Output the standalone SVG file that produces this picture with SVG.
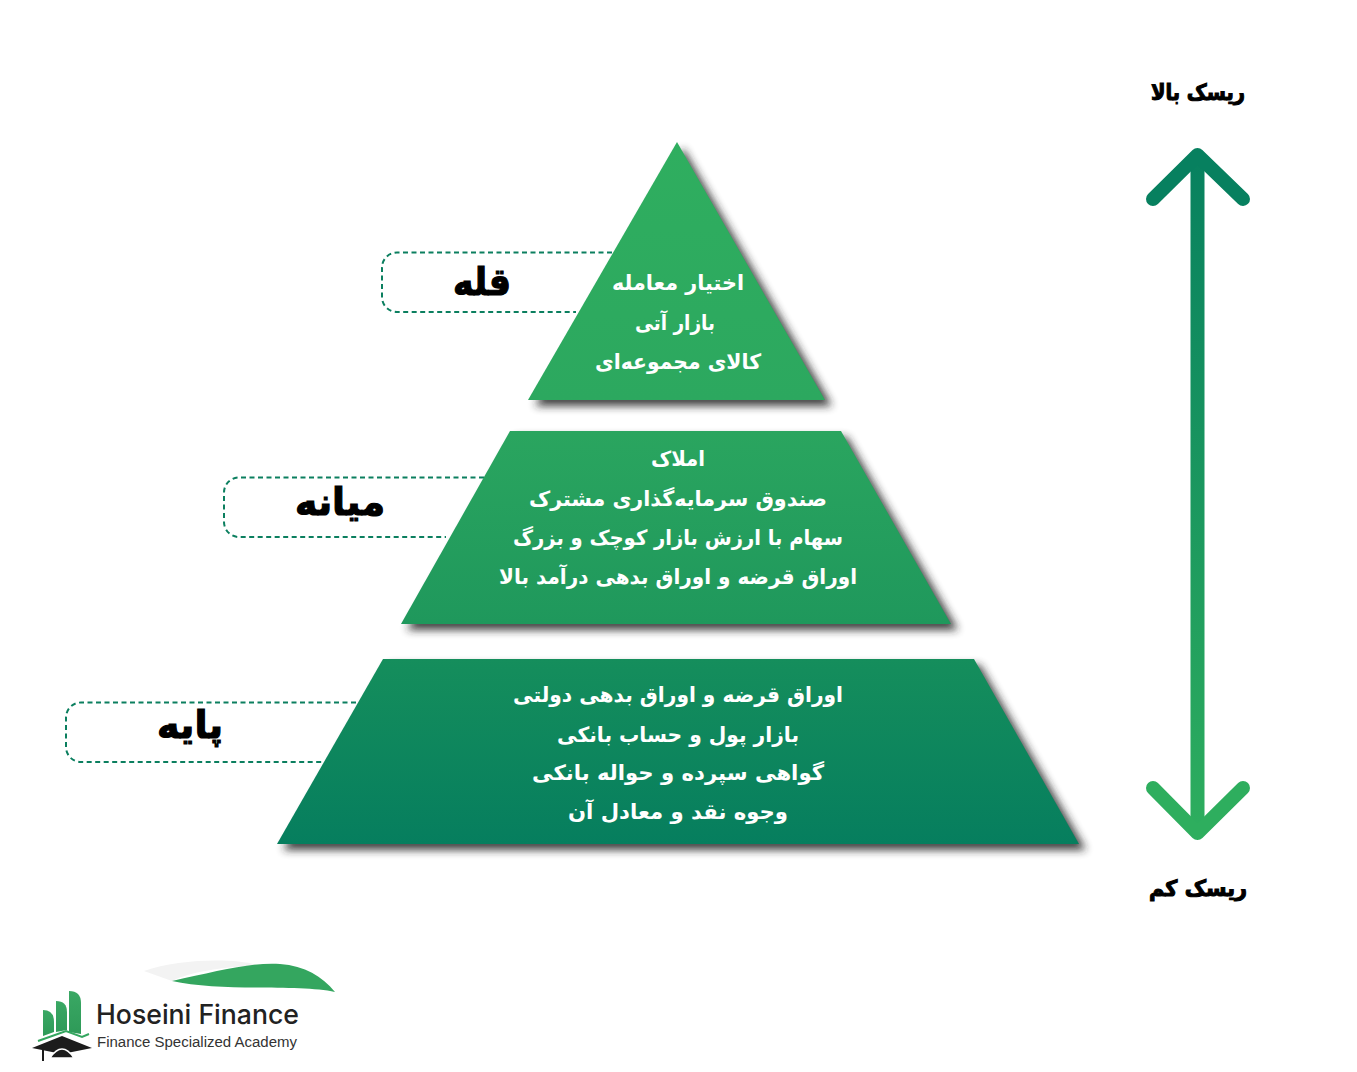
<svg xmlns="http://www.w3.org/2000/svg" width="1357" height="1072" viewBox="0 0 1357 1072">
<style>
.tier{font-family:"DejaVu Sans",sans-serif;font-weight:700;font-size:21px;fill:#fff;text-anchor:middle}
.lab{font-family:"DejaVu Sans",sans-serif;font-weight:700;font-size:38px;fill:#000;stroke:#000;stroke-width:1.200;text-anchor:middle}
.risk{font-family:"DejaVu Sans",sans-serif;font-weight:700;font-size:22px;fill:#000;stroke:#000;stroke-width:1.100;text-anchor:middle}
.dash{fill:none;stroke:#0b7f5f;stroke-width:2;stroke-dasharray:5 3.500}
</style>
<defs>
<linearGradient id="g1" x1="0" y1="0" x2="0" y2="1"><stop offset="0" stop-color="#2fae5f"/><stop offset="1" stop-color="#2ca85f"/></linearGradient>
<linearGradient id="g2" x1="0" y1="0" x2="0" y2="1"><stop offset="0" stop-color="#2aa55f"/><stop offset="1" stop-color="#1f985c"/></linearGradient>
<linearGradient id="g3" x1="0" y1="0" x2="0" y2="1"><stop offset="0" stop-color="#158e5c"/><stop offset="1" stop-color="#067e5e"/></linearGradient>
<linearGradient id="ga" gradientUnits="userSpaceOnUse" x1="0" y1="150" x2="0" y2="838"><stop offset="0" stop-color="#07805f"/><stop offset="1" stop-color="#2eae5e"/></linearGradient>
<linearGradient id="bar" x1="0" y1="0" x2="0" y2="1"><stop offset="0" stop-color="#3aa864"/><stop offset="1" stop-color="#2e9a58"/></linearGradient>
<filter id="sh" x="-10%" y="-10%" width="125%" height="125%"><feGaussianBlur stdDeviation="4.500"/></filter>
</defs>
<rect width="1357" height="1072" fill="#fff"/>
<g id="connectors">
<path class="dash" d="M612 252.500H397a15 15 0 0 0-15 15V297a15 15 0 0 0 15 15H576"/>
<path class="dash" d="M484 477.500H239a15 15 0 0 0-15 15V522a15 15 0 0 0 15 15H446"/>
<path class="dash" d="M356 702.500H81a15 15 0 0 0-15 15V747a15 15 0 0 0 15 15H324"/>
</g>
<g id="tier-top">
<path d="M683 148 832 406H535Z" fill="#222" opacity=".85" filter="url(#sh)"/>
<path d="M677 142 825 400H528Z" fill="url(#g1)"/>
<text class="tier" direction="rtl" x="678" y="290" textLength="132" lengthAdjust="spacingAndGlyphs">اختیار معامله</text>
<text class="tier" direction="rtl" x="675" y="330" textLength="80" lengthAdjust="spacingAndGlyphs">بازار آتی</text>
<text class="tier" direction="rtl" x="678" y="369" textLength="166" lengthAdjust="spacingAndGlyphs">کالای مجموعه‌ای</text>
</g>
<g id="tier-middle">
<path d="M516 437H847L958 630H407Z" fill="#222" opacity=".85" filter="url(#sh)"/>
<path d="M510 431H841L951 624H401Z" fill="url(#g2)"/>
<text class="tier" direction="rtl" x="678" y="466" textLength="54" lengthAdjust="spacingAndGlyphs">املاک</text>
<text class="tier" direction="rtl" x="678" y="506" textLength="298" lengthAdjust="spacingAndGlyphs">صندوق سرمایه‌گذاری مشترک</text>
<text class="tier" direction="rtl" x="678" y="545" textLength="330" lengthAdjust="spacingAndGlyphs">سهام با ارزش بازار کوچک و بزرگ</text>
<text class="tier" direction="rtl" x="678" y="584" textLength="358" lengthAdjust="spacingAndGlyphs">اوراق قرضه و اوراق بدهی درآمد بالا</text>
</g>
<g id="tier-base">
<path d="M389 665H980L1086 850H283Z" fill="#222" opacity=".85" filter="url(#sh)"/>
<path d="M383 659H974L1079 844H277Z" fill="url(#g3)"/>
<text class="tier" direction="rtl" x="678" y="702" textLength="330" lengthAdjust="spacingAndGlyphs">اوراق قرضه و اوراق بدهی دولتی</text>
<text class="tier" direction="rtl" x="678" y="742" textLength="242" lengthAdjust="spacingAndGlyphs">بازار پول و حساب بانکی</text>
<text class="tier" direction="rtl" x="678" y="780" textLength="292" lengthAdjust="spacingAndGlyphs">گواهی سپرده و حواله بانکی</text>
<text class="tier" direction="rtl" x="678" y="819" textLength="220" lengthAdjust="spacingAndGlyphs">وجوه نقد و معادل آن</text>
</g>
<g id="label-peak"><text class="lab" direction="rtl" x="482" y="295" textLength="58" lengthAdjust="spacingAndGlyphs">قله</text></g>
<g id="label-mid"><text class="lab" direction="rtl" x="340" y="515" textLength="90" lengthAdjust="spacingAndGlyphs">میانه</text></g>
<g id="label-base"><text class="lab" direction="rtl" x="190" y="738" textLength="66" lengthAdjust="spacingAndGlyphs">پایه</text></g>
<g id="risk-axis" fill="none" stroke="url(#ga)" stroke-width="14">
<path d="M1197.500 158V830"/>
</g>
<g id="risk-heads" fill="none" stroke-width="14" stroke-linecap="round" stroke-linejoin="round">
<path d="M1153 199 1197.500 155 1243 199" stroke="#07805f"/>
<path d="M1153 788 1197.500 833 1243 788" stroke="#2eae5e"/>
</g>
<g id="risk-high"><text class="risk" direction="rtl" x="1198" y="100" textLength="94" lengthAdjust="spacingAndGlyphs">ریسک بالا</text></g>
<g id="risk-low"><text class="risk" direction="rtl" x="1198" y="896" textLength="98" lengthAdjust="spacingAndGlyphs">ریسک کم</text></g>
<g id="logo">
<path d="M144 971C180 958 240 958 260 966C225 966 190 972 172 981Z" fill="#f3f3f3"/>
<path d="M172 981C215 972 250 962 280 964C305 966 322 976 335 992C300 984 220 992 172 981Z" fill="#34a65f"/>
<path d="M43 1036V1010Q54 1010 54 1022V1032Z" fill="url(#bar)"/>
<path d="M56 1032V1001Q67 1001 67 1012V1030Z" fill="url(#bar)"/>
<path d="M69 1032V991Q81 991 81 1003V1034Z" fill="url(#bar)"/>
<path d="M38 1041 66 1031 82 1037 89 1034" fill="none" stroke="#34a65f" stroke-width="2"/>
<path d="M32 1048 62 1036 92 1048 62 1054Z" fill="#1c1c1c"/>
<path d="M50 1058Q62 1040 74 1058Z" fill="#1c1c1c" stroke="#fff" stroke-width="1.500"/>
<rect x="42" y="1048" width="2" height="13" fill="#1c1c1c"/>
<text x="96" y="1024" font-family="Inter,'Liberation Sans',sans-serif" font-size="27" font-weight="500" fill="#222" textLength="203" lengthAdjust="spacingAndGlyphs">Hoseini Finance</text>
<text x="97" y="1047" font-family="'Liberation Sans',sans-serif" font-size="15.500" fill="#333" textLength="200" lengthAdjust="spacingAndGlyphs">Finance Specialized Academy</text>
</g>
</svg>
